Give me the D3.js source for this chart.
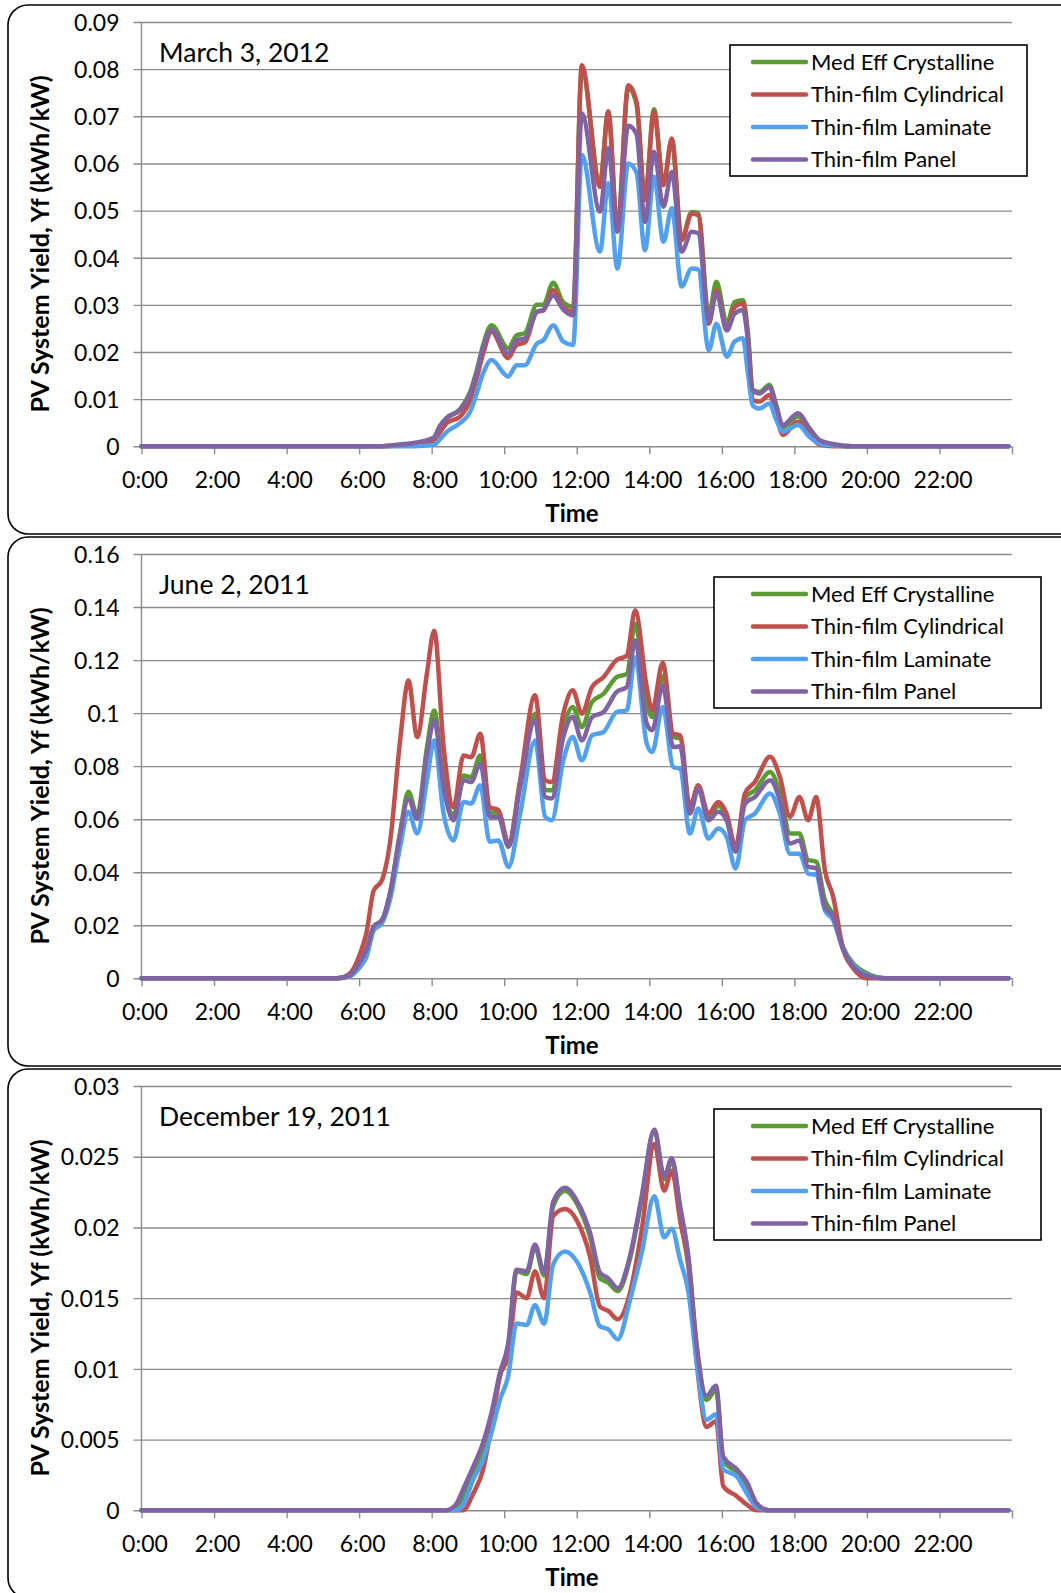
<!DOCTYPE html>
<html>
<head>
<meta charset="utf-8">
<script src="https://cdn.jsdelivr.net/npm/d3@7/dist/d3.min.js"></script>
<style>
  body { margin: 0; background: #fff; }
  svg { display: block; font-family: Lato, "Open Sans", sans-serif; }
</style>
</head>
<body>
<svg id="chart"></svg>
<script>
// shared by all three days
const seriesNames = ["Med Eff Crystalline", "Thin-film Cylindrical", "Thin-film Laminate", "Thin-film Panel"];
const seriesColors = ["#5b9b34", "#c0504d", "#53a0ef", "#8064a2"];
const timeTicks = [0, 2, 4, 6, 8, 10, 12, 14, 16, 18, 20, 22, 24];
const timeLabels = ["0:00", "2:00", "4:00", "6:00", "8:00", "10:00", "12:00", "14:00", "16:00", "18:00", "20:00", "22:00", ""];

// March 3, 2012  (hours of day, yield kWh/kW)
const marchTicks = [0, 0.01, 0.02, 0.03, 0.04, 0.05, 0.06, 0.07, 0.08, 0.09];
const marchHours = [0, 6.5, 7, 7.5, 8.05, 8.23, 8.41, 8.78, 9.06, 9.24, 9.42, 9.65, 10.11, 10.34, 10.57, 10.9, 11.08, 11.35, 11.63, 11.9, 12.14, 12.64, 12.87, 13.12, 13.42, 13.65, 13.88, 14.13, 14.39, 14.62, 14.89, 15.17, 15.35, 15.64, 15.85, 16.14, 16.35, 16.58, 16.72, 16.85, 17.04, 17.31, 17.5, 17.68, 18.1, 18.42, 18.7, 19.06, 19.6, 23.9];
const marchMedEff = [0, 0, 0.0002, 0.0005, 0.0017, 0.0043, 0.0060, 0.0079, 0.0115, 0.0160, 0.0215, 0.0257, 0.0208, 0.0235, 0.0240, 0.0300, 0.0300, 0.0347, 0.0305, 0.0296, 0.0800, 0.0560, 0.0710, 0.0460, 0.0760, 0.0725, 0.0525, 0.0715, 0.0555, 0.0650, 0.0440, 0.0497, 0.0495, 0.0278, 0.0349, 0.0260, 0.0306, 0.0310, 0.0240, 0.0120, 0.0115, 0.0130, 0.0088, 0.0040, 0.0063, 0.0035, 0.0010, 0.0004, 0, 0];
const marchCylindrical = [0, 0, 0.0001, 0.0003, 0.0012, 0.0030, 0.0049, 0.0063, 0.0098, 0.0144, 0.0197, 0.0243, 0.0187, 0.0215, 0.0220, 0.0285, 0.0288, 0.0331, 0.0295, 0.0285, 0.0808, 0.0550, 0.0710, 0.0459, 0.0766, 0.0730, 0.0522, 0.0710, 0.0554, 0.0653, 0.0437, 0.0494, 0.0490, 0.0260, 0.0331, 0.0246, 0.0295, 0.0303, 0.0230, 0.0098, 0.0095, 0.0109, 0.0070, 0.0024, 0.0052, 0.0025, 0.0003, 0, 0, 0];
const marchLaminate = [0, 0, 0, 0, 0.0003, 0.0015, 0.0030, 0.0049, 0.0073, 0.0112, 0.0155, 0.0183, 0.0148, 0.0172, 0.0172, 0.0218, 0.0225, 0.0257, 0.0222, 0.0215, 0.0618, 0.0413, 0.0558, 0.0377, 0.0600, 0.0580, 0.0416, 0.0572, 0.0434, 0.0505, 0.0339, 0.0377, 0.0375, 0.0204, 0.0260, 0.0190, 0.0222, 0.0229, 0.0155, 0.0087, 0.0080, 0.0091, 0.0056, 0.0031, 0.0045, 0.0020, 0.0006, 0.0002, 0, 0];
const marchPanel = [0, 0, 0.0003, 0.0007, 0.0018, 0.0043, 0.0060, 0.0077, 0.0112, 0.0155, 0.0210, 0.0247, 0.0197, 0.0225, 0.0229, 0.0285, 0.0290, 0.0320, 0.0290, 0.0278, 0.0706, 0.0498, 0.0632, 0.0455, 0.0680, 0.0662, 0.0476, 0.0625, 0.0508, 0.0582, 0.0413, 0.0455, 0.0452, 0.0267, 0.0324, 0.0246, 0.0281, 0.0289, 0.0225, 0.0119, 0.0112, 0.0126, 0.0084, 0.0045, 0.0070, 0.0038, 0.0013, 0.0005, 0, 0];

// June 2, 2011
const juneTicks = [0, 0.02, 0.04, 0.06, 0.08, 0.1, 0.12, 0.14, 0.16];
const juneHours = [0, 5.4, 5.75, 6.03, 6.2, 6.4, 6.63, 6.85, 7.13, 7.36, 7.6, 7.87, 8.07, 8.33, 8.6, 8.88, 9.09, 9.34, 9.6, 9.84, 10.12, 10.44, 10.85, 11.13, 11.31, 11.63, 11.89, 12.14, 12.42, 12.74, 13.1, 13.38, 13.61, 13.93, 14.08, 14.37, 14.66, 14.85, 15.12, 15.35, 15.63, 15.9, 16.13, 16.38, 16.64, 16.91, 17.33, 17.6, 17.88, 18.14, 18.38, 18.6, 18.84, 19.07, 19.35, 19.62, 20.0, 20.5, 23.9];
const juneMedEff = [0, 0, 0.0012, 0.0065, 0.0110, 0.0195, 0.0220, 0.0320, 0.0550, 0.0703, 0.0615, 0.0870, 0.1010, 0.0740, 0.0615, 0.0765, 0.0758, 0.0840, 0.0625, 0.0625, 0.0505, 0.0740, 0.0998, 0.0710, 0.0709, 0.0940, 0.1023, 0.0948, 0.1042, 0.1073, 0.1136, 0.1148, 0.1337, 0.1030, 0.0985, 0.1140, 0.0910, 0.0905, 0.0630, 0.0720, 0.0610, 0.0650, 0.0610, 0.0485, 0.0680, 0.0709, 0.0778, 0.0700, 0.0546, 0.0546, 0.0446, 0.0440, 0.0295, 0.0240, 0.0115, 0.0056, 0.0019, 0, 0];
const juneCylindrical = [0, 0, 0.0019, 0.0094, 0.0170, 0.0330, 0.0370, 0.0510, 0.0897, 0.1123, 0.0910, 0.1150, 0.1311, 0.0872, 0.0646, 0.0840, 0.0834, 0.0922, 0.0646, 0.0634, 0.0508, 0.0747, 0.1067, 0.0747, 0.0740, 0.0998, 0.1086, 0.0998, 0.1098, 0.1136, 0.1200, 0.1217, 0.1387, 0.1098, 0.1010, 0.1190, 0.0922, 0.0916, 0.0646, 0.0728, 0.0621, 0.0665, 0.0621, 0.0496, 0.0697, 0.0740, 0.0835, 0.0760, 0.0609, 0.0684, 0.0596, 0.0684, 0.0408, 0.0307, 0.0107, 0.0038, 0, 0, 0];
const juneLaminate = [0, 0, 0.0008, 0.0044, 0.0080, 0.0180, 0.0207, 0.0295, 0.0496, 0.0628, 0.0546, 0.0747, 0.0897, 0.0620, 0.0520, 0.0665, 0.0659, 0.0728, 0.0515, 0.0520, 0.0420, 0.0620, 0.0897, 0.0609, 0.0596, 0.0822, 0.0910, 0.0822, 0.0916, 0.0929, 0.1004, 0.1010, 0.1211, 0.0885, 0.0853, 0.1023, 0.0797, 0.0790, 0.0546, 0.0640, 0.0527, 0.0565, 0.0534, 0.0414, 0.0596, 0.0621, 0.0697, 0.0621, 0.0470, 0.0470, 0.0395, 0.0390, 0.0257, 0.0220, 0.0107, 0.0050, 0.0013, 0, 0];
const junePanel = [0, 0, 0.0012, 0.0063, 0.0107, 0.0195, 0.0220, 0.0320, 0.0546, 0.0678, 0.0602, 0.0847, 0.0973, 0.0722, 0.0596, 0.0747, 0.0740, 0.0810, 0.0609, 0.0609, 0.0496, 0.0722, 0.0973, 0.0684, 0.0678, 0.0910, 0.0985, 0.0897, 0.0985, 0.1004, 0.1080, 0.1098, 0.1274, 0.0960, 0.0935, 0.1104, 0.0872, 0.0875, 0.0621, 0.0715, 0.0596, 0.0628, 0.0596, 0.0477, 0.0659, 0.0684, 0.0747, 0.0671, 0.0508, 0.0520, 0.0420, 0.0415, 0.0270, 0.0232, 0.0107, 0.0044, 0.0010, 0, 0];

// December 19, 2011
const decTicks = [0, 0.005, 0.01, 0.015, 0.02, 0.025, 0.03];
const decHours = [0, 8.4, 8.69, 8.87, 9.15, 9.42, 9.65, 9.88, 10.11, 10.34, 10.62, 10.85, 11.1, 11.35, 11.68, 12.0, 12.37, 12.64, 12.87, 13.13, 13.47, 13.79, 14.14, 14.41, 14.62, 14.85, 15.08, 15.31, 15.58, 15.84, 16.04, 16.41, 16.69, 16.96, 17.3, 23.9];
const decMedEff = [0, 0, 0.0003, 0.0010, 0.0028, 0.0043, 0.0065, 0.0095, 0.0115, 0.0169, 0.0167, 0.0186, 0.0166, 0.0215, 0.0226, 0.0217, 0.0193, 0.0164, 0.0161, 0.0155, 0.0178, 0.0220, 0.0269, 0.0234, 0.0247, 0.0213, 0.0177, 0.0114, 0.0078, 0.0085, 0.0035, 0.0027, 0.0018, 0.0004, 0, 0];
const decCylindrical = [0, 0, 0, 0, 0.0012, 0.0029, 0.0060, 0.0095, 0.0109, 0.0154, 0.0150, 0.0169, 0.0150, 0.0208, 0.0213, 0.0205, 0.0179, 0.0144, 0.0141, 0.0135, 0.0154, 0.0198, 0.0259, 0.0226, 0.0240, 0.0205, 0.0172, 0.0104, 0.0059, 0.0063, 0.0017, 0.0010, 0.0004, 0, 0, 0];
const decLaminate = [0, 0, 0, 0.0004, 0.0022, 0.0036, 0.0055, 0.0078, 0.0095, 0.0132, 0.0131, 0.0145, 0.0132, 0.0174, 0.0183, 0.0176, 0.0154, 0.0130, 0.0128, 0.0121, 0.0149, 0.0182, 0.0222, 0.0193, 0.0199, 0.0177, 0.0154, 0.0104, 0.0064, 0.0068, 0.0029, 0.0024, 0.0012, 0.0002, 0, 0];
const decPanel = [0, 0, 0.0005, 0.0015, 0.0031, 0.0048, 0.0069, 0.0097, 0.0118, 0.0170, 0.0169, 0.0188, 0.0168, 0.0218, 0.0228, 0.0219, 0.0196, 0.0168, 0.0164, 0.0157, 0.0180, 0.0222, 0.0269, 0.0236, 0.0249, 0.0215, 0.0179, 0.0116, 0.0081, 0.0088, 0.0038, 0.0029, 0.0020, 0.0005, 0, 0];

const days = [
  { title: "March 3, 2012", hours: marchHours, ticks: marchTicks, values: [marchMedEff, marchCylindrical, marchLaminate, marchPanel], legendX: 730, legendW: 297 },
  { title: "June 2, 2011", hours: juneHours, ticks: juneTicks, values: [juneMedEff, juneCylindrical, juneLaminate, junePanel], legendX: 714, legendW: 327 },
  { title: "December 19, 2011", hours: decHours, ticks: decTicks, values: [decMedEff, decCylindrical, decLaminate, decPanel], legendX: 714, legendW: 327 }
];

const width = 1061;
const height = 1593;
const plotLeft = 141.5;
const plotRight = 1012;
const panelTops = [5, 537, 1069];
const gridColor = "#8c8c8c";

const svg = d3.select("#chart")
  .attr("width", width)
  .attr("height", height);

const xScale = d3.scaleLinear()
  .domain([0, 24])
  .range([plotLeft, plotRight]);

const render = (day, i) => {
  const top = panelTops[i];
  const g = svg.append("g");

  // rounded frame, right edge runs past the page like the original
  g.append("rect")
    .attr("x", 8).attr("y", top)
    .attr("width", 1072).attr("height", 529)
    .attr("rx", 20).attr("ry", 20)
    .attr("fill", "none")
    .attr("stroke", "#000")
    .attr("stroke-width", 1.6);

  const yScale = d3.scaleLinear()
    .domain([0, d3.max(day.ticks)])
    .range([top + 441.3, top + 17]);

  // y axis + horizontal gridlines
  const yAxisGroup = g.append("g")
    .attr("transform", `translate(${plotLeft},0)`)
    .call(d3.axisLeft(yScale)
      .tickValues(day.ticks)
      .tickSize(8)
      .tickPadding(14)
      .tickFormat(d => String(+d.toFixed(3))));
  yAxisGroup.select(".domain").remove();
  yAxisGroup.attr("font-family", null).attr("font-size", 23);
  yAxisGroup.selectAll(".tick line")
    .attr("x1", -8)
    .attr("x2", plotRight - plotLeft)
    .attr("stroke", gridColor)
    .attr("stroke-width", 1.4);
  yAxisGroup.selectAll(".tick text").attr("fill", "#000").attr("dy", "0.36em");

  g.append("line")
    .attr("x1", plotLeft).attr("x2", plotLeft)
    .attr("y1", yScale(d3.max(day.ticks))).attr("y2", yScale(0))
    .attr("stroke", gridColor)
    .attr("stroke-width", 1.4);

  // x axis
  const xAxisGroup = g.append("g")
    .attr("transform", `translate(0,${yScale(0)})`)
    .call(d3.axisBottom(xScale)
      .tickValues(timeTicks)
      .tickSize(8)
      .tickFormat((d, k) => timeLabels[k]));
  xAxisGroup.select(".domain").remove();
  xAxisGroup.attr("font-family", null).attr("font-size", 23);
  xAxisGroup.selectAll(".tick line").attr("stroke", gridColor).attr("stroke-width", 1.4);
  xAxisGroup.selectAll(".tick text")
    .attr("fill", "#000")
    .attr("y", 42).attr("dy", 0)
    .attr("x", 3);

  // series
  const line = d3.line()
    .x((d, k) => xScale(day.hours[k]))
    .y(d => yScale(d))
    .curve(d3.curveMonotoneX);

  day.values.forEach((vals, s) => {
    g.append("path")
      .attr("d", line(vals))
      .attr("fill", "none")
      .attr("stroke", seriesColors[s])
      .attr("stroke-width", 4.5)
      .attr("stroke-linejoin", "round")
      .attr("stroke-linecap", "round");
  });

  // titles
  g.append("text")
    .text(day.title)
    .attr("x", 159).attr("y", top + 57)
    .attr("font-size", 26.5)
    .attr("fill", "#000");

  g.append("text")
    .text("Time")
    .attr("x", 572).attr("y", top + 517)
    .attr("text-anchor", "middle")
    .attr("font-size", 24)
    .attr("font-weight", "bold")
    .attr("fill", "#000");

  g.append("text")
    .text("PV System Yield, Yf (kWh/kW)")
    .attr("transform", `translate(49,${top + 239}) rotate(-90)`)
    .attr("text-anchor", "middle")
    .attr("font-size", 25)
    .attr("font-weight", "bold")
    .attr("fill", "#000");

  // legend
  const legend = g.append("g");
  legend.append("rect")
    .attr("x", day.legendX).attr("y", top + 40)
    .attr("width", day.legendW).attr("height", 131)
    .attr("fill", "#fff")
    .attr("stroke", "#000")
    .attr("stroke-width", 1.6);

  seriesNames.forEach((name, s) => {
    const ly = top + 57 + s * 32.5;
    legend.append("line")
      .attr("x1", 753).attr("x2", 806)
      .attr("y1", ly).attr("y2", ly)
      .attr("stroke", seriesColors[s])
      .attr("stroke-width", 4.5)
      .attr("stroke-linecap", "round");
    legend.append("text")
      .text(name)
      .attr("x", 811).attr("y", ly)
      .attr("dy", "0.36em")
      .attr("font-size", 22)
      .attr("fill", "#000");
  });
};

days.forEach(render);
</script>
</body>
</html>
